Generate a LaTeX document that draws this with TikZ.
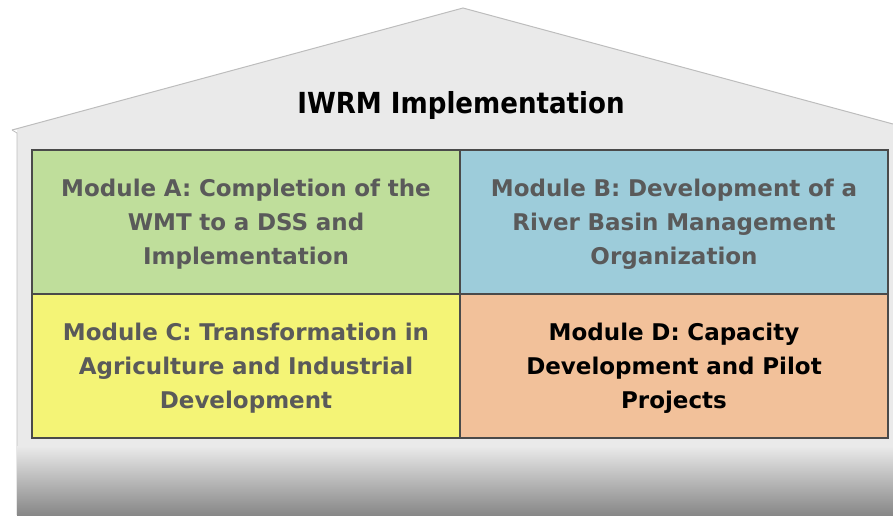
\documentclass[tikz,border=0pt]{standalone}
\usepackage{fontspec}
\setmainfont{DejaVu Sans}
\newfontfamily\titlefont{DejaVu Sans Condensed}
\usetikzlibrary{positioning}
\definecolor{housegray}{HTML}{EAEAEA}
\definecolor{edgegray}{HTML}{BDBDBD}
\definecolor{modA}{HTML}{BFDE9B}
\definecolor{modB}{HTML}{9DCCDA}
\definecolor{modC}{HTML}{F4F476}
\definecolor{modD}{HTML}{F2C19A}
\definecolor{txtgray}{HTML}{5A5A5A}
\definecolor{boxedge}{HTML}{4A4A4A}
\tikzset{
  modbox/.style={draw=boxedge, line width=1.2pt, minimum width=428pt, minimum height=144pt, inner sep=0pt,
    align=center, font=\bfseries\fontsize{23}{34}\selectfont, text width=420pt},
  modtext/.style={align=center, font=\bfseries\fontsize{23}{34}\selectfont, text width=420pt},
}
\begin{document}
\begin{tikzpicture}[x=1pt,y=-1pt]
\useasboundingbox (0,0) rectangle (893,515);
% roof
\fill[housegray] (12,130) -- (463,8) -- (893,124) -- (893,515) -- (17,515) -- (17,130) -- cycle;
\draw[edgegray, line width=1pt] (12,130) -- (463,8) -- (893,124);
\draw[edgegray, line width=0.8pt] (12,130) -- (17,133) -- (17,515);
% base gradient
\shade[top color=housegray, bottom color=black!47] (17,446) rectangle (893,515);
\node[font=\titlefont\bfseries\fontsize{29}{32}\selectfont] (title) at (461,105) {IWRM Implementation};
% modules
\node[modbox, fill=modA] (A) at (246,222) {};
\node[modbox, fill=modB] (B) at (674,222) {};
\node[modbox, fill=modC] (C) at (246,366) {};
\node[modbox, fill=modD] (D) at (674,366) {};
\node[modtext, text=txtgray] (tA) at (246,224) {Module A: Completion of the\\WMT to a DSS and\\Implementation};
\node[modtext, text=txtgray] (tB) at (674,224) {Module B: Development of a\\River Basin Management\\Organization};
\node[modtext, text=txtgray] (tC) at (246,368) {Module C: Transformation in\\Agriculture and Industrial\\Development};
\node[modtext, text=black] (tD) at (674,368) {Module D: Capacity\\Development and Pilot\\Projects};
\end{tikzpicture}
\end{document}
